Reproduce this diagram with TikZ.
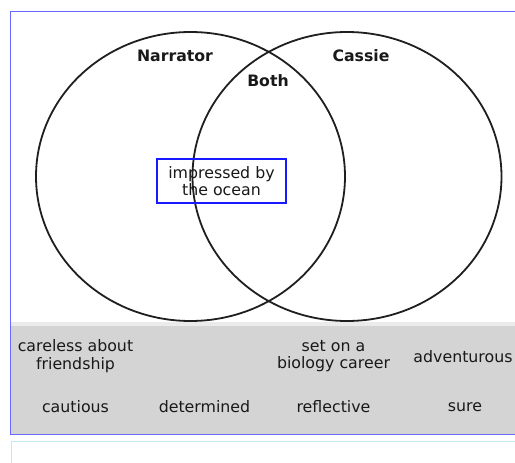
\documentclass[tikz,border=0pt]{standalone}
\usepackage{fontspec}
\setmainfont{DejaVu Sans}
\usetikzlibrary{shapes.geometric}
\definecolor{framebl}{RGB}{105,105,255}
\definecolor{boxbl}{RGB}{25,25,255}
\definecolor{bankgray}{RGB}{212,212,212}
\definecolor{answercy}{RGB}{196,232,244}

\begin{document}
\begin{tikzpicture}[x=1pt,y=-1pt,semithick,
  set/.style={ellipse,draw=black!88,line width=1.8pt,inner sep=0pt,
    minimum width=309pt,minimum height=289pt},
  title/.style={font=\fontsize{15.7}{18}\selectfont\bfseries,text=black!90},
  word/.style={font=\fontsize{15.8}{17.5}\selectfont,text=black!90,align=center}]
  \useasboundingbox (0,0) rectangle (515,463);
  \clip (0,0) rectangle (515,463);

  \fill[white] (0,0) rectangle (515,463);
  \fill[black!8] (11,322) rectangle (530,326);
  \fill[bankgray] (11,326) rectangle (530,434);
  \draw[framebl,line width=1pt] (10.5,11.5) rectangle (530,434);
  \draw[answercy] (11.5,441.5) rectangle (530,480);

  \node[set] (narrator) at (190.5,176.5) {};
  \node[set] (cassie) at (347,176.5) {};

  \node[title] (N) at (175,56) {Narrator};
  \node[title] (C) at (361,56) {Cassie};
  \node[title] (B) at (268,81) {Both};

  \node[word,draw=boxbl,line width=1.5pt,minimum width=129pt,minimum height=44pt,
    inner sep=0pt] (ocean) at (221.5,181) {impressed by\\the ocean};

  \node[word] (careless) at (75.5,356) {careless about\\friendship};
  \node[word] (career) at (333.5,356) {set on a\\biology career};
  \node[word] (adventurous) at (463,357) {adventurous};
  \node[word] (cautious) at (75.5,407) {cautious};
  \node[word] (determined) at (204.5,407) {determined};
  \node[word] (reflective) at (333.5,407) {reflective};
  \node[word] (sure) at (465,407) {sure};

\end{tikzpicture}
\end{document}
